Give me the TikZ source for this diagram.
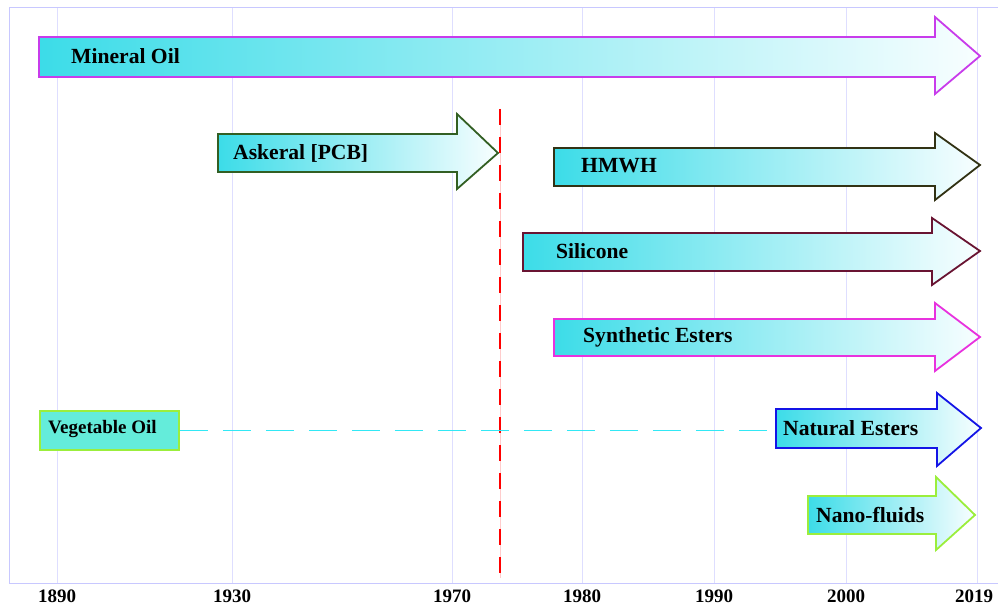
\documentclass[tikz,border=0pt]{standalone}
\usepackage{fontspec}
\setmainfont{Liberation Serif}
\usepackage{xcolor}
\usetikzlibrary{positioning, calc}

\definecolor{gridc}{RGB}{222,222,255}
\definecolor{framec}{RGB}{200,200,255}
\definecolor{cyanL}{RGB}{60,220,232}
\definecolor{whiteR}{RGB}{248,254,255}
\definecolor{mineralc}{RGB}{200,60,235}
\definecolor{askeralc}{RGB}{50,95,35}
\definecolor{hmwhc}{RGB}{50,50,20}
\definecolor{siliconec}{RGB}{105,20,50}
\definecolor{synthc}{RGB}{232,50,222}
\definecolor{naturalc}{RGB}{20,20,230}
\definecolor{nanoc}{RGB}{155,238,60}
\definecolor{vegfill}{RGB}{100,236,218}
\definecolor{vegline}{RGB}{50,232,245}

\begin{document}
\begin{tikzpicture}[
    x=1bp, y=-1bp,
    %% arrows of the fluid types
    fluid/.style = {
      draw=#1, line width=1.8bp, line join=miter,
      left color=cyanL, right color=whiteR},
    ftext/.style = {
      anchor=west, inner sep=0pt,
      font=\bfseries\fontsize{21.6bp}{24bp}\selectfont},
    %% timeline
    grid/.style  = {draw=gridc, line width=1bp},
    yrlabel/.style = {font=\bfseries\fontsize{19bp}{20bp}\selectfont,
      inner sep=0pt, anchor=base},
    vbox/.style = {
      draw=nanoc, line width=1.8bp, fill=vegfill,
      minimum width=139bp, minimum height=39bp, inner sep=0pt},
  ]
  \useasboundingbox (0,0) rectangle (998,605);

  %% ── grid and years ───────────────────────────────────────────
  \foreach \x in {57, 232, 452, 582, 714, 846, 977} {
    \draw[grid] (\x,8) -- (\x,583);
  }
  \foreach \x/\yr in {57/1890, 232/1930, 452/1970, 582/1980, 714/1990, 846/2000, 974/2019} {
    \node[yrlabel] (y\yr) at (\x,602) {\yr};
  }
  \draw[framec, line width=1bp] (998,8) -- (9,8) -- (9,583) -- (998,583);

  %% ── PCB ban marker ───────────────────────────────────────────
  \coordinate (banT) at (500,109);
  \coordinate (banB) at (500,578);
  \draw[red!20, line width=1bp] (banT) -- (banB);
  \draw[red, line width=2bp, dash pattern=on 16bp off 12bp] (banT) -- (banB);

  %% ── arrows ───────────────────────────────────────────────────
  \draw[fluid=mineralc]  (39,37) -- (935,37) -- (935,17) -- (980,56) -- (935,94) -- (935,77) -- (39,77) -- cycle;
  \node[ftext] (mineral) at (71,56) {Mineral Oil};

  \draw[fluid=askeralc]  (218,134) -- (457,134) -- (457,114) -- (498,153) -- (457,189) -- (457,172) -- (218,172) -- cycle;
  \node[ftext] (askeral) at (233,153) {Askeral [PCB]};

  \draw[fluid=hmwhc]     (554,148) -- (935,148) -- (935,133) -- (980,165) -- (935,200) -- (935,186) -- (554,186) -- cycle;
  \node[ftext] (hmwh) at (581,166) {HMWH};

  \draw[fluid=siliconec] (523,233) -- (932,233) -- (932,218) -- (980,251) -- (932,285) -- (932,271) -- (523,271) -- cycle;
  \node[ftext] (silicone) at (556,251) {Silicone};

  \draw[fluid=synthc]    (554,319) -- (935,319) -- (935,303) -- (980,337) -- (935,371) -- (935,356) -- (554,356) -- cycle;
  \node[ftext] (synth) at (583,337) {Synthetic Esters};

  \draw[fluid=naturalc]  (776,409) -- (937,409) -- (937,393) -- (981,428) -- (937,466) -- (937,448) -- (776,448) -- cycle;
  \node[ftext] (natural) at (783,428) {Natural Esters};
  \coordinate (natL) at (776,429);

  \draw[fluid=nanoc]     (808,496) -- (936,496) -- (936,477) -- (975,515) -- (936,550) -- (936,534) -- (808,534) -- cycle;
  \node[ftext] (nano) at (816,515) {Nano-fluids};

  %% ── vegetable oil ────────────────────────────────────────────
  \node[vbox, anchor=north west] (veg) at (39,410) {};
  \node[anchor=west, inner sep=0pt, font=\bfseries\fontsize{19bp}{22bp}\selectfont] (vegtext) at (48,429) {Vegetable Oil};
  \draw[vegline, line width=1.5bp, dash pattern=on 28bp off 15bp] (veg.east) -- (natL|-veg.east);

\end{tikzpicture}
\end{document}
